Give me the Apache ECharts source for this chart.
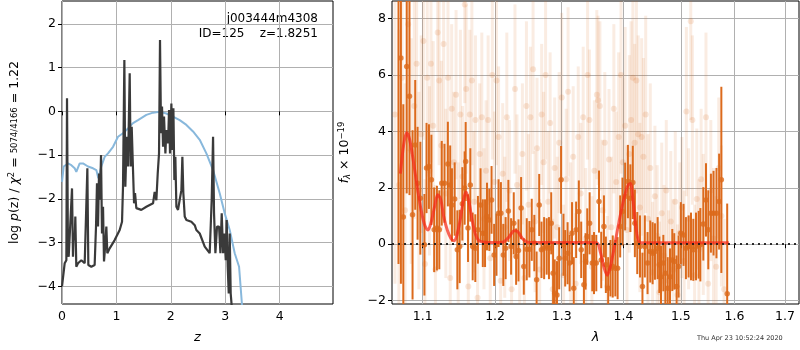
<!DOCTYPE html>
<html>
<head>
<meta charset="utf-8">
<script src="https://cdn.jsdelivr.net/npm/echarts@6/dist/echarts.min.js"></script>
<style>
  html, body { margin: 0; padding: 0; background: #fff; }
  #main { width: 800px; height: 350px; }
</style>
</head>
<body>
<div id="main"></div>
<script>
// left panel: log p(z) (black) and chi2 curve (blue)
const zTicks = [0, 1, 2, 3, 4]
const pzTicks = [-4, -3, -2, -1, 0, 1, 2]
const zGrid = [0, 0.049, 0.080, 0.092, 0.110, 0.123, 0.153, 0.184, 0.202, 0.214, 0.233, 0.245, 0.263, 0.294, 0.355, 0.417, 0.447, 0.466, 0.484, 0.539,
  0.600, 0.625, 0.643, 0.662, 0.680, 0.699, 0.717, 0.735, 0.754, 0.772, 0.790, 0.815, 0.833, 0.876, 0.968, 1.060, 1.103, 1.121, 1.146, 1.164,
  1.189, 1.213, 1.244, 1.262, 1.281, 1.305, 1.324, 1.342, 1.366, 1.397, 1.458, 1.550, 1.673, 1.703, 1.734, 1.759, 1.783, 1.801, 1.820, 1.838,
  1.857, 1.875, 1.900, 1.918, 1.949, 1.967, 1.985, 2.010, 2.028, 2.047, 2.065, 2.083, 2.102, 2.132, 2.163, 2.194, 2.212, 2.230, 2.255, 2.286,
  2.377, 2.439, 2.469, 2.531, 2.623, 2.714, 2.751, 2.776, 2.794, 2.819, 2.849, 2.886, 2.911, 2.935, 2.960, 2.984, 3.009, 3.027, 3.045, 3.064,
  3.082, 3.100, 3.125]
const logPz = [-4.00, -3.47, -3.40, 0.30, -3.25, -3.32, -3.32, -1.76, -3.32, -2.79, -2.94, -2.40, -3.55, -3.47, -3.40, -3.47, -3.47, -1.30, -3.51, -3.55,
  -3.51, -2.63, -1.64, -2.63, -1.42, -2.02, -1.00, -2.79, -2.18, -3.43, -3.13, -2.63, -3.24, -3.13, -2.94, -2.71, -2.52, -1.72, 1.17, -1.72,
  -0.58, -1.26, 0.87, -1.26, -0.35, -1.34, -2.10, -1.87, -2.21, -2.21, -2.25, -2.18, -2.10, -1.84, -2.03, -1.42, -0.96, 1.63, -0.50, 0.11,
  -0.81, -0.12, -0.96, -0.43, -0.73, 0.03, -0.96, 0.18, -0.88, 0.07, -1.57, -1.04, -2.18, -2.25, -2.02, -1.80, -1.04, -1.87, -2.40, -2.48,
  -2.52, -2.60, -2.71, -2.79, -3.09, -3.24, -2.02, -0.58, -2.33, -3.24, -2.63, -2.63, -3.24, -2.33, -3.24, -2.79, -3.40, -2.48, -3.55, -4.16,
  -2.79, -4.16, -4.54]
const zChi = [0, 0.031, 0.110, 0.172, 0.233, 0.263, 0.325, 0.386, 0.478, 0.570, 0.631, 0.668, 0.723, 0.784, 0.846, 0.938, 1.029, 1.121, 1.213, 1.305,
  1.397, 1.550, 1.673, 1.795, 1.918, 2.040, 2.163, 2.286, 2.408, 2.531, 2.653, 2.776, 2.898, 2.990, 3.082, 3.174, 3.254, 3.315]
const chiCurve = [-1.61, -1.26, -1.19, -1.23, -1.30, -1.38, -1.19, -1.19, -1.26, -1.30, -1.34, -1.53, -1.26, -1.04, -0.96, -0.81, -0.58, -0.50, -0.39, -0.27,
  -0.20, -0.08, -0.03, -0.01, -0.05, -0.12, -0.20, -0.31, -0.46, -0.65, -0.96, -1.34, -1.87, -2.33, -2.71, -3.24, -3.55, -4.54]

// right panel: spectrum
const lamTicks = [1.1, 1.2, 1.3, 1.4, 1.5, 1.6, 1.7]
const fluxTicks = [-2, 0, 2, 4, 6, 8]
const waveDark = [1.0685, 1.0716, 1.0747, 1.0791, 1.0827, 1.0867, 1.0902, 1.0933, 1.0969, 1.1023, 1.1051, 1.1083, 1.1116, 1.1153, 1.1190, 1.1222, 1.1255, 1.1292, 1.1338, 1.1370,
  1.1394, 1.1431, 1.1468, 1.1500, 1.1537, 1.1569, 1.1583, 1.1616, 1.1648, 1.1681, 1.1718, 1.1755, 1.1792, 1.1824, 1.1856, 1.1884, 1.1917, 1.1949, 1.1986, 1.2020,
  1.2050, 1.2084, 1.2119, 1.2153, 1.2193, 1.2233, 1.2272, 1.2307, 1.2342, 1.2381, 1.2421, 1.2465, 1.2505, 1.2540, 1.2579, 1.2614, 1.2653, 1.2688, 1.2728, 1.2767,
  1.2802, 1.2837, 1.2866, 1.2891, 1.2926, 1.2960, 1.2990, 1.3027, 1.3054, 1.3092, 1.3124, 1.3162, 1.3189, 1.3227, 1.3270, 1.3308, 1.3351, 1.3378, 1.3405, 1.3443,
  1.3486, 1.3514, 1.3551, 1.3595, 1.3632, 1.3676, 1.3708, 1.3746, 1.3784, 1.3822, 1.3865, 1.3903, 1.3946, 1.3984, 1.4029, 1.4076, 1.4118, 1.4159, 1.4194, 1.4235,
  1.4282, 1.4324, 1.4365, 1.4412, 1.4459, 1.4500, 1.4541, 1.4588, 1.4618, 1.4647, 1.4688, 1.4724, 1.4765, 1.4806, 1.4847, 1.4882, 1.4924, 1.4959, 1.5000, 1.5049,
  1.5092, 1.5141, 1.5184, 1.5227, 1.5276, 1.5325, 1.5356, 1.5411, 1.5460, 1.5503, 1.5552, 1.5601, 1.5656, 1.5706, 1.5748, 1.5859]
const fluxDark = [9.20, 6.60, 0.96, 6.30, 5.24, 1.04, 3.52, 2.16, 1.63, -0.02, 2.70, 2.75, 2.28, 0.51, 0.57, 0.51, 2.16, 2.16, 2.84, 2.10,
  1.39, 1.60, -0.20, -0.08, 1.43, 1.99, 2.93, 0.57, 2.10, -0.08, -0.14, 0.51, 1.39, 0.39, 0.39, 0.98, 0.86, 1.57, -0.38, -0.02,
  1.10, 1.10, -0.38, -0.14, 1.18, -0.08, 0.74, -0.44, -0.22, 1.28, -0.79, -0.18, -0.18, 0.51, 0.04, -1.26, 1.39, -0.20, -0.14, -0.08,
  -0.14, 0.74, -1.03, -1.74, -1.80, -0.50, 2.28, -0.02, -0.50, -0.32, -0.67, 0.39, -1.56, 0.51, 1.16, -0.20, -1.44, -0.61, 0.27, 0.74,
  -0.67, -0.67, -0.67, 1.51, -0.56, 0.63, -0.73, -1.56, -0.85, -0.79, -0.85, -0.85, 0.63, 1.16, 1.69, 2.22, 1.63, 2.19, 0.74, 0.04,
  -0.08, -1.50, -0.08, -0.67, -0.26, -0.32, -0.26, -0.14, -0.73, -1.15, -0.67, -1.03, -1.56, -1.15, -0.56, -0.61, -1.50, -0.79, 0.39, 0.33,
  -0.14, -0.08, -0.08, -0.20, -0.08, -0.02, -0.02, 0.72, 1.57, 0.51, 1.10, 1.10, 1.10, 1.51, 2.28, -1.76]
const errDark = [9.9, 8.0, 4.0, 4.5, 3.5, 3.0, 2.3, 2.0, 2.0, 1.8, 1.6, 1.5, 1.6, 1.5, 1.5, 1.4, 1.5, 1.4, 1.5, 1.4,
  1.3, 1.3, 1.4, 1.3, 1.3, 1.3, 1.4, 1.2, 1.3, 1.2, 1.2, 1.2, 1.3, 1.2, 1.2, 1.2, 1.1, 1.2, 1.1, 1.1,
  1.2, 1.1, 1.1, 1.1, 1.1, 1.0, 1.1, 1.0, 1.1, 1.1, 1.0, 1.1, 1.0, 1.1, 1.0, 1.0, 1.1, 1.0, 1.1, 1.0,
  1.1, 1.1, 1.1, 1.2, 1.2, 1.1, 1.2, 1.1, 1.0, 1.1, 1.0, 1.1, 1.1, 1.0, 1.1, 1.0, 1.1, 1.0, 1.0, 1.1,
  1.0, 1.1, 1.0, 1.1, 1.0, 1.1, 1.0, 1.1, 1.0, 1.1, 1.0, 1.1, 1.1, 1.2, 1.2, 1.3, 1.2, 1.3, 1.2, 1.1,
  1.1, 1.2, 1.1, 1.1, 1.1, 1.1, 1.0, 1.1, 1.0, 1.1, 1.0, 1.1, 1.1, 1.0, 1.1, 1.0, 1.1, 1.1, 1.1, 1.1,
  1.1, 1.1, 1.2, 1.1, 1.2, 1.2, 1.3, 1.3, 1.3, 1.4, 1.4, 1.5, 1.6, 1.7, 3.3, 3.2]
const waveFaint = [1.064, 1.069, 1.073, 1.077, 1.081, 1.085, 1.089, 1.092, 1.095, 1.098, 1.101, 1.103, 1.106, 1.109, 1.111, 1.114, 1.117, 1.120, 1.122, 1.125,
  1.128, 1.131, 1.134, 1.137, 1.139, 1.142, 1.145, 1.148, 1.151, 1.154, 1.157, 1.159, 1.162, 1.164, 1.167, 1.170, 1.172, 1.175, 1.178, 1.181,
  1.184, 1.187, 1.190, 1.193, 1.196, 1.199, 1.202, 1.205, 1.208, 1.211, 1.214, 1.217, 1.221, 1.224, 1.229, 1.232, 1.236, 1.240, 1.243, 1.246,
  1.249, 1.252, 1.256, 1.259, 1.262, 1.266, 1.269, 1.272, 1.275, 1.279, 1.282, 1.286, 1.289, 1.293, 1.296, 1.300, 1.303, 1.307, 1.310, 1.314,
  1.318, 1.322, 1.326, 1.330, 1.334, 1.338, 1.341, 1.344, 1.348, 1.352, 1.356, 1.358, 1.361, 1.365, 1.369, 1.373, 1.376, 1.380, 1.384, 1.388,
  1.392, 1.396, 1.399, 1.403, 1.406, 1.410, 1.413, 1.416, 1.419, 1.422, 1.425, 1.428, 1.431, 1.434, 1.438, 1.442, 1.446, 1.450, 1.454, 1.458,
  1.462, 1.466, 1.470, 1.474, 1.478, 1.482, 1.486, 1.490, 1.494, 1.498, 1.502, 1.506, 1.510, 1.514, 1.518, 1.521, 1.525, 1.529, 1.533, 1.537,
  1.541, 1.546, 1.550, 1.555, 1.560, 1.565, 1.570, 1.575, 1.580]
const fluxFaint = [4.6, 2.1, 5.9, 1.2, 7.8, 3.3, 4.9, 6.4, 1.9, 3.9, 7.2, -0.7, 5.9, 2.6, 6.4, 4.2, -0.9, 7.5, 5.8, 3.5,
  7.1, 1.8, 5.9, -1.2, 4.8, 2.9, 5.3, 0.4, 4.6, 2.4, 8.5, 5.5, -1.5, 4.6, 5.8, 1.5, 4.4, -1.9, 3.2, 4.5,
  0.9, 2.6, 4.4, -0.5, 6.0, 2.2, 5.8, 3.8, -1.3, 2.5, 0.6, 4.5, 1.9, -1.6, 5.5, 2.1, 0.3, 3.2, -1.2, 4.9,
  1.4, 4.5, 6.2, 0.8, 3.4, -0.9, 4.6, 2.9, 6.0, 1.5, 4.3, -1.6, 2.7, 0.6, 3.6, 5.2, -1.1, 2.3, 5.4, 0.4,
  3.1, -1.4, 3.8, 1.8, 4.5, 0.2, 6.0, 4.4, -0.8, 2.6, 5.3, 5.1, 4.9, 1.2, 3.6, -1.5, 3.0, 0.6, 4.8, 2.2,
  3.8, 6.0, 2.9, 4.2, 0.5, 3.2, 4.4, 5.9, 3.6, 5.8, 3.9, 1.3, 3.8, 3.1, 4.6, 0.9, 2.7, -1.0, 1.7, 0.3,
  -1.7, 1.1, -0.4, 1.9, -1.3, 0.8, -0.9, 1.5, -1.8, 0.4, 1.3, -0.6, 4.7, 0.9, 7.9, 4.4, -1.1, 1.6, -0.2, 2.3,
  0.7, 4.5, -1.4, 1.9, 0.2, -0.8, 2.7, 1.0, -1.6]
const errFaint = [6.0, 5.5, 5.0, 4.5, 4.5, 4.0, 4.0, 3.5, 3.5, 3.5, 3.5, 3.0, 3.5, 3.0, 3.5, 3.0, 3.0, 3.5, 3.0, 3.0,
  3.5, 3.0, 3.0, 2.5, 3.0, 2.5, 3.0, 2.5, 3.0, 2.5, 3.5, 3.0, 2.5, 3.0, 3.0, 2.5, 3.0, 2.5, 2.5, 3.0,
  2.5, 2.5, 3.0, 2.5, 3.0, 2.5, 3.0, 2.5, 2.5, 2.5, 2.5, 3.0, 2.5, 2.5, 3.0, 2.5, 2.5, 2.5, 2.5, 3.0,
  2.5, 2.5, 3.0, 2.5, 2.5, 2.5, 2.5, 2.5, 3.0, 2.5, 2.5, 2.5, 2.5, 2.5, 2.5, 3.0, 2.5, 2.5, 3.0, 2.5,
  2.5, 2.5, 2.5, 2.5, 2.5, 2.5, 3.0, 2.5, 2.5, 2.5, 3.0, 3.0, 3.0, 2.5, 2.5, 2.5, 2.5, 2.5, 3.0, 2.5,
  3.0, 3.5, 3.0, 3.5, 3.0, 3.5, 3.5, 4.0, 3.5, 4.0, 3.5, 3.0, 3.5, 3.5, 3.5, 3.0, 3.0, 2.5, 2.5, 2.5,
  2.5, 2.5, 2.5, 2.5, 2.5, 2.5, 2.5, 2.5, 2.5, 2.5, 2.5, 2.5, 3.0, 2.5, 3.5, 3.0, 2.5, 2.5, 2.5, 2.5,
  2.5, 3.0, 2.5, 2.5, 2.5, 2.5, 2.5, 2.5, 2.5]
const waveModel = [1.071, 1.075, 1.079, 1.083, 1.088, 1.093, 1.098, 1.103, 1.107, 1.111, 1.116, 1.120, 1.124, 1.128, 1.133, 1.138, 1.142, 1.146, 1.151, 1.155,
  1.159, 1.163, 1.167, 1.172, 1.177, 1.185, 1.200, 1.212, 1.220, 1.228, 1.233, 1.240, 1.248, 1.260, 1.300, 1.340, 1.356, 1.362, 1.368, 1.373,
  1.378, 1.384, 1.390, 1.396, 1.402, 1.408, 1.412, 1.416, 1.420, 1.425, 1.430, 1.450, 1.500, 1.550, 1.589]
const fluxModel = [2.5, 3.5, 3.95, 3.7, 2.9, 2.0, 1.2, 0.65, 0.5, 0.75, 1.35, 1.75, 1.6, 1.0, 0.5, 0.2, 0.12, 0.3, 0.9, 1.55,
  1.85, 1.5, 0.9, 0.35, 0.12, 0.07, 0.06, 0.08, 0.25, 0.48, 0.45, 0.2, 0.07, 0.06, 0.06, 0.06, 0.05, -0.3, -0.85, -1.1,
  -0.8, -0.2, 0.5, 1.15, 1.7, 2.1, 2.15, 1.6, 0.8, 0.15, 0.05, 0.05, 0.05, 0.05, 0.05]

const FONT = 'DejaVu Sans'
const ORANGE = '#dc6a1c'
const minus = v => String(v).replace('-', '\u2212')

// wavelength axis is logarithmic: plot ln(lambda)
const lnPairs = (xs, ys, es) => xs.map((x, i) => es ? [Math.log(x), ys[i], es[i]] : [Math.log(x), ys[i]])

function errBars (color, width) {
  return function (params, api) {
    const x = api.value(0)
    const lo = api.coord([x, api.value(1) - api.value(2)])
    const hi = api.coord([x, api.value(1) + api.value(2)])
    return {
      type: 'line',
      shape: { x1: lo[0], y1: lo[1], x2: hi[0], y2: hi[1] },
      style: { stroke: color, lineWidth: width }
    }
  }
}

function axisCommon (ticks, fmt) {
  return {
    axisLine: { show: false },
    axisTick: { show: true, length: 4, customValues: ticks, lineStyle: { color: '#000' } },
    axisLabel: { customValues: ticks, color: '#000', fontSize: 12.5, fontFamily: FONT, margin: 6, formatter: fmt },
    splitLine: { show: true, lineStyle: { color: '#b0b0b0', width: 1 } }
  }
}

const chart = echarts.init(document.getElementById('main'), null, { renderer: 'canvas' })
chart.setOption({
  backgroundColor: '#fff',
  animation: false,
  textStyle: { fontFamily: FONT },
  grid: [
    { left: 62, top: 1, width: 271, height: 303, show: true, borderColor: '#000', borderWidth: 1, containLabel: false, outerBoundsMode: 'none' },
    { left: 392, top: 1, width: 407, height: 303, show: true, borderColor: '#000', borderWidth: 1, containLabel: false, outerBoundsMode: 'none' }
  ],
  xAxis: [
    Object.assign({
      gridIndex: 0, type: 'value', min: 0, max: 4.98,
      name: 'z', nameLocation: 'middle', nameGap: 27,
      nameTextStyle: { fontSize: 13, fontStyle: 'italic', color: '#000', fontFamily: FONT }
    }, axisCommon(zTicks, v => minus(v))),
    Object.assign({
      gridIndex: 1, type: 'value', min: Math.log(1.0602), max: Math.log(1.7288),
      name: 'λ', nameLocation: 'middle', nameGap: 27,
      nameTextStyle: { fontSize: 13, fontStyle: 'italic', color: '#000', fontFamily: FONT }
    }, axisCommon(lamTicks.map(Math.log), v => Math.exp(v).toFixed(1)))
  ],
  yAxis: [
    Object.assign({
      gridIndex: 0, type: 'value', min: -4.4, max: 2.52,
      name: '{n|log }{i|p}{n|(z) / }{i|χ}{s|2}{n| = }{f|5074/4166}{n| = 1.22}',
      nameLocation: 'middle', nameGap: 40,
      nameTextStyle: {
        color: '#000',
        rich: {
          n: { fontSize: 12.5, fontFamily: FONT, color: '#000' },
          i: { fontSize: 12.5, fontFamily: FONT, fontStyle: 'italic', color: '#000' },
          s: { fontSize: 8.5, fontFamily: FONT, color: '#000', verticalAlign: 'top', padding: [0, 0, 6, 0] },
          f: { fontSize: 8.5, fontFamily: FONT, color: '#000' }
        }
      }
    }, axisCommon(pzTicks, v => minus(v))),
    Object.assign({
      gridIndex: 1, type: 'value', min: -2.12, max: 8.62,
      name: '{i|f}{b|λ}{n| × 10}{s|−19}',
      nameLocation: 'middle', nameGap: 40,
      nameTextStyle: {
        color: '#000',
        rich: {
          n: { fontSize: 12.5, fontFamily: FONT, color: '#000' },
          i: { fontSize: 12.5, fontFamily: FONT, fontStyle: 'italic', color: '#000' },
          b: { fontSize: 8.5, fontFamily: FONT, fontStyle: 'italic', color: '#000', padding: [6, 0, 0, 0] },
          s: { fontSize: 8.5, fontFamily: FONT, color: '#000', padding: [0, 0, 6, 0] }
        }
      }
    }, axisCommon(fluxTicks, v => minus(v)))
  ],
  series: [
    {
      type: 'line', xAxisIndex: 0, yAxisIndex: 0, showSymbol: false, clip: true,
      data: zChi.map((z, i) => [z, chiCurve[i]]),
      lineStyle: { color: '#88b8dc', width: 2 }, z: 3
    },
    {
      type: 'line', xAxisIndex: 0, yAxisIndex: 0, showSymbol: false, clip: true,
      data: zGrid.map((z, i) => [z, logPz[i]]),
      lineStyle: { color: '#3a3a3a', width: 2.2 }, z: 4
    },
    {
      type: 'custom', xAxisIndex: 1, yAxisIndex: 1, clip: true, z: 2,
      renderItem: errBars('rgba(220,106,28,0.13)', 3),
      data: lnPairs(waveFaint, fluxFaint, errFaint)
    },
    {
      type: 'scatter', xAxisIndex: 1, yAxisIndex: 1, clip: true, z: 2,
      symbolSize: 6, itemStyle: { color: 'rgba(220,106,28,0.2)' },
      data: lnPairs(waveFaint, fluxFaint)
    },
    {
      type: 'custom', xAxisIndex: 1, yAxisIndex: 1, clip: true, z: 3,
      renderItem: errBars(ORANGE, 2),
      data: lnPairs(waveDark, fluxDark, errDark)
    },
    {
      type: 'scatter', xAxisIndex: 1, yAxisIndex: 1, clip: true, z: 3,
      symbolSize: 5.5, itemStyle: { color: ORANGE },
      data: lnPairs(waveDark, fluxDark)
    },
    {
      type: 'line', xAxisIndex: 1, yAxisIndex: 1, showSymbol: false, clip: true, smooth: 0.3, z: 4,
      data: lnPairs(waveModel, fluxModel),
      lineStyle: { color: 'rgba(245,40,25,0.72)', width: 3 },
      markLine: {
        silent: true, symbol: 'none', label: { show: false },
        lineStyle: { color: '#1a1a1a', width: 2, type: [2, 4], opacity: 0.9 },
        data: [{ yAxis: 0 }]
      }
    }
  ],
  graphic: [
    { type: 'text', right: 482, top: 13, style: { text: 'j003444m4308', font: '12px "DejaVu Sans"', fill: '#000', textAlign: 'right' } },
    { type: 'text', right: 482, top: 28, style: { text: 'ID=125    z=1.8251', font: '12px "DejaVu Sans"', fill: '#000', textAlign: 'right' } },
    { type: 'text', left: 697, top: 335, style: { text: 'Thu Apr 23 10:52:24 2020', font: '6.5px "DejaVu Sans"', fill: '#333' } }
  ]
})
</script>
</body>
</html>
